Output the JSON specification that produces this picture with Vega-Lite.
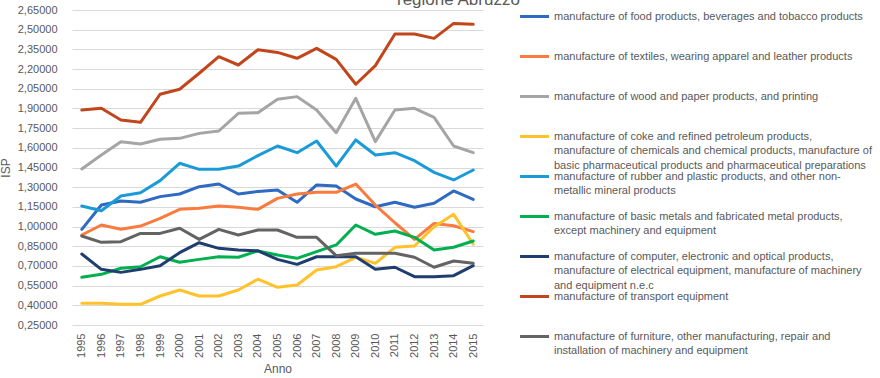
{
  "$schema": "https://vega.github.io/schema/vega-lite/v6.json",
  "autosize": {"type": "none"},
  "padding": {"left": 72, "top": 10, "right": 397, "bottom": 53},
  "width": 411,
  "height": 315,
  "background": "white",
  "title": {"text": "regione Abruzzo", "anchor": "start", "frame": "group", "dx": 325, "dy": 18, "offset": 0, "baseline": "alphabetic", "fontSize": 17, "font": "Liberation Sans", "fontWeight": "normal", "color": "#595959"},
  "datasets": {
    "isp": [
      {"anno": 1995, "k": "food", "isp": 0.979}, {"anno": 1996, "k": "food", "isp": 1.164}, {"anno": 1997, "k": "food", "isp": 1.195}, {"anno": 1998, "k": "food", "isp": 1.185}, {"anno": 1999, "k": "food", "isp": 1.228}, {"anno": 2000, "k": "food", "isp": 1.248}, {"anno": 2001, "k": "food", "isp": 1.304}, {"anno": 2002, "k": "food", "isp": 1.324}, {"anno": 2003, "k": "food", "isp": 1.248}, {"anno": 2004, "k": "food", "isp": 1.268}, {"anno": 2005, "k": "food", "isp": 1.279}, {"anno": 2006, "k": "food", "isp": 1.185}, {"anno": 2007, "k": "food", "isp": 1.317}, {"anno": 2008, "k": "food", "isp": 1.309}, {"anno": 2009, "k": "food", "isp": 1.210}, {"anno": 2010, "k": "food", "isp": 1.151}, {"anno": 2011, "k": "food", "isp": 1.185}, {"anno": 2012, "k": "food", "isp": 1.147}, {"anno": 2013, "k": "food", "isp": 1.177}, {"anno": 2014, "k": "food", "isp": 1.271}, {"anno": 2015, "k": "food", "isp": 1.207},
      {"anno": 1995, "k": "textiles", "isp": 0.936}, {"anno": 1996, "k": "textiles", "isp": 1.012}, {"anno": 1997, "k": "textiles", "isp": 0.979}, {"anno": 1998, "k": "textiles", "isp": 1.004}, {"anno": 1999, "k": "textiles", "isp": 1.063}, {"anno": 2000, "k": "textiles", "isp": 1.131}, {"anno": 2001, "k": "textiles", "isp": 1.139}, {"anno": 2002, "k": "textiles", "isp": 1.157}, {"anno": 2003, "k": "textiles", "isp": 1.147}, {"anno": 2004, "k": "textiles", "isp": 1.131}, {"anno": 2005, "k": "textiles", "isp": 1.215}, {"anno": 2006, "k": "textiles", "isp": 1.248}, {"anno": 2007, "k": "textiles", "isp": 1.261}, {"anno": 2008, "k": "textiles", "isp": 1.261}, {"anno": 2009, "k": "textiles", "isp": 1.324}, {"anno": 2010, "k": "textiles", "isp": 1.164}, {"anno": 2011, "k": "textiles", "isp": 1.029}, {"anno": 2012, "k": "textiles", "isp": 0.902}, {"anno": 2013, "k": "textiles", "isp": 1.024}, {"anno": 2014, "k": "textiles", "isp": 1.006}, {"anno": 2015, "k": "textiles", "isp": 0.961},
      {"anno": 1995, "k": "wood", "isp": 1.439}, {"anno": 1996, "k": "wood", "isp": 1.545}, {"anno": 1997, "k": "wood", "isp": 1.647}, {"anno": 1998, "k": "wood", "isp": 1.629}, {"anno": 1999, "k": "wood", "isp": 1.665}, {"anno": 2000, "k": "wood", "isp": 1.672}, {"anno": 2001, "k": "wood", "isp": 1.710}, {"anno": 2002, "k": "wood", "isp": 1.728}, {"anno": 2003, "k": "wood", "isp": 1.863}, {"anno": 2004, "k": "wood", "isp": 1.867}, {"anno": 2005, "k": "wood", "isp": 1.970}, {"anno": 2006, "k": "wood", "isp": 1.990}, {"anno": 2007, "k": "wood", "isp": 1.888}, {"anno": 2008, "k": "wood", "isp": 1.715}, {"anno": 2009, "k": "wood", "isp": 1.977}, {"anno": 2010, "k": "wood", "isp": 1.647}, {"anno": 2011, "k": "wood", "isp": 1.888}, {"anno": 2012, "k": "wood", "isp": 1.901}, {"anno": 2013, "k": "wood", "isp": 1.832}, {"anno": 2014, "k": "wood", "isp": 1.614}, {"anno": 2015, "k": "wood", "isp": 1.563},
      {"anno": 1995, "k": "coke", "isp": 0.415}, {"anno": 1996, "k": "coke", "isp": 0.415}, {"anno": 1997, "k": "coke", "isp": 0.408}, {"anno": 1998, "k": "coke", "isp": 0.408}, {"anno": 1999, "k": "coke", "isp": 0.471}, {"anno": 2000, "k": "coke", "isp": 0.517}, {"anno": 2001, "k": "coke", "isp": 0.471}, {"anno": 2002, "k": "coke", "isp": 0.471}, {"anno": 2003, "k": "coke", "isp": 0.517}, {"anno": 2004, "k": "coke", "isp": 0.599}, {"anno": 2005, "k": "coke", "isp": 0.537}, {"anno": 2006, "k": "coke", "isp": 0.555}, {"anno": 2007, "k": "coke", "isp": 0.669}, {"anno": 2008, "k": "coke", "isp": 0.694}, {"anno": 2009, "k": "coke", "isp": 0.766}, {"anno": 2010, "k": "coke", "isp": 0.720}, {"anno": 2011, "k": "coke", "isp": 0.842}, {"anno": 2012, "k": "coke", "isp": 0.852}, {"anno": 2013, "k": "coke", "isp": 0.999}, {"anno": 2014, "k": "coke", "isp": 1.093}, {"anno": 2015, "k": "coke", "isp": 0.865},
      {"anno": 1995, "k": "rubber", "isp": 1.157}, {"anno": 1996, "k": "rubber", "isp": 1.121}, {"anno": 1997, "k": "rubber", "isp": 1.233}, {"anno": 1998, "k": "rubber", "isp": 1.258}, {"anno": 1999, "k": "rubber", "isp": 1.350}, {"anno": 2000, "k": "rubber", "isp": 1.482}, {"anno": 2001, "k": "rubber", "isp": 1.436}, {"anno": 2002, "k": "rubber", "isp": 1.436}, {"anno": 2003, "k": "rubber", "isp": 1.461}, {"anno": 2004, "k": "rubber", "isp": 1.541}, {"anno": 2005, "k": "rubber", "isp": 1.614}, {"anno": 2006, "k": "rubber", "isp": 1.563}, {"anno": 2007, "k": "rubber", "isp": 1.652}, {"anno": 2008, "k": "rubber", "isp": 1.461}, {"anno": 2009, "k": "rubber", "isp": 1.660}, {"anno": 2010, "k": "rubber", "isp": 1.545}, {"anno": 2011, "k": "rubber", "isp": 1.563}, {"anno": 2012, "k": "rubber", "isp": 1.502}, {"anno": 2013, "k": "rubber", "isp": 1.413}, {"anno": 2014, "k": "rubber", "isp": 1.355}, {"anno": 2015, "k": "rubber", "isp": 1.431},
      {"anno": 1995, "k": "metals", "isp": 0.613}, {"anno": 1996, "k": "metals", "isp": 0.636}, {"anno": 1997, "k": "metals", "isp": 0.682}, {"anno": 1998, "k": "metals", "isp": 0.694}, {"anno": 1999, "k": "metals", "isp": 0.770}, {"anno": 2000, "k": "metals", "isp": 0.728}, {"anno": 2001, "k": "metals", "isp": 0.750}, {"anno": 2002, "k": "metals", "isp": 0.770}, {"anno": 2003, "k": "metals", "isp": 0.766}, {"anno": 2004, "k": "metals", "isp": 0.815}, {"anno": 2005, "k": "metals", "isp": 0.783}, {"anno": 2006, "k": "metals", "isp": 0.758}, {"anno": 2007, "k": "metals", "isp": 0.809}, {"anno": 2008, "k": "metals", "isp": 0.860}, {"anno": 2009, "k": "metals", "isp": 1.012}, {"anno": 2010, "k": "metals", "isp": 0.941}, {"anno": 2011, "k": "metals", "isp": 0.966}, {"anno": 2012, "k": "metals", "isp": 0.918}, {"anno": 2013, "k": "metals", "isp": 0.821}, {"anno": 2014, "k": "metals", "isp": 0.842}, {"anno": 2015, "k": "metals", "isp": 0.890},
      {"anno": 1995, "k": "computer", "isp": 0.791}, {"anno": 1996, "k": "computer", "isp": 0.674}, {"anno": 1997, "k": "computer", "isp": 0.651}, {"anno": 1998, "k": "computer", "isp": 0.674}, {"anno": 1999, "k": "computer", "isp": 0.702}, {"anno": 2000, "k": "computer", "isp": 0.801}, {"anno": 2001, "k": "computer", "isp": 0.877}, {"anno": 2002, "k": "computer", "isp": 0.834}, {"anno": 2003, "k": "computer", "isp": 0.821}, {"anno": 2004, "k": "computer", "isp": 0.815}, {"anno": 2005, "k": "computer", "isp": 0.750}, {"anno": 2006, "k": "computer", "isp": 0.712}, {"anno": 2007, "k": "computer", "isp": 0.770}, {"anno": 2008, "k": "computer", "isp": 0.770}, {"anno": 2009, "k": "computer", "isp": 0.770}, {"anno": 2010, "k": "computer", "isp": 0.674}, {"anno": 2011, "k": "computer", "isp": 0.690}, {"anno": 2012, "k": "computer", "isp": 0.618}, {"anno": 2013, "k": "computer", "isp": 0.618}, {"anno": 2014, "k": "computer", "isp": 0.626}, {"anno": 2015, "k": "computer", "isp": 0.702},
      {"anno": 1995, "k": "transport", "isp": 1.888}, {"anno": 1996, "k": "transport", "isp": 1.901}, {"anno": 1997, "k": "transport", "isp": 1.812}, {"anno": 1998, "k": "transport", "isp": 1.794}, {"anno": 1999, "k": "transport", "isp": 2.008}, {"anno": 2000, "k": "transport", "isp": 2.046}, {"anno": 2001, "k": "transport", "isp": 2.168}, {"anno": 2002, "k": "transport", "isp": 2.294}, {"anno": 2003, "k": "transport", "isp": 2.231}, {"anno": 2004, "k": "transport", "isp": 2.347}, {"anno": 2005, "k": "transport", "isp": 2.327}, {"anno": 2006, "k": "transport", "isp": 2.282}, {"anno": 2007, "k": "transport", "isp": 2.358}, {"anno": 2008, "k": "transport", "isp": 2.274}, {"anno": 2009, "k": "transport", "isp": 2.084}, {"anno": 2010, "k": "transport", "isp": 2.226}, {"anno": 2011, "k": "transport", "isp": 2.467}, {"anno": 2012, "k": "transport", "isp": 2.467}, {"anno": 2013, "k": "transport", "isp": 2.434}, {"anno": 2014, "k": "transport", "isp": 2.548}, {"anno": 2015, "k": "transport", "isp": 2.541},
      {"anno": 1995, "k": "furniture", "isp": 0.928}, {"anno": 1996, "k": "furniture", "isp": 0.880}, {"anno": 1997, "k": "furniture", "isp": 0.885}, {"anno": 1998, "k": "furniture", "isp": 0.948}, {"anno": 1999, "k": "furniture", "isp": 0.948}, {"anno": 2000, "k": "furniture", "isp": 0.987}, {"anno": 2001, "k": "furniture", "isp": 0.902}, {"anno": 2002, "k": "furniture", "isp": 0.979}, {"anno": 2003, "k": "furniture", "isp": 0.936}, {"anno": 2004, "k": "furniture", "isp": 0.974}, {"anno": 2005, "k": "furniture", "isp": 0.974}, {"anno": 2006, "k": "furniture", "isp": 0.918}, {"anno": 2007, "k": "furniture", "isp": 0.918}, {"anno": 2008, "k": "furniture", "isp": 0.778}, {"anno": 2009, "k": "furniture", "isp": 0.796}, {"anno": 2010, "k": "furniture", "isp": 0.796}, {"anno": 2011, "k": "furniture", "isp": 0.796}, {"anno": 2012, "k": "furniture", "isp": 0.766}, {"anno": 2013, "k": "furniture", "isp": 0.690}, {"anno": 2014, "k": "furniture", "isp": 0.738}, {"anno": 2015, "k": "furniture", "isp": 0.720}
    ]
  },
  "data": {"name": "isp"},
  "mark": {"type": "line", "strokeWidth": 3, "strokeJoin": "round", "strokeCap": "round"},
  "encoding": {
    "x": {
      "field": "anno", "type": "ordinal",
      "scale": {"type": "point", "padding": 0.5},
      "axis": {"title": "Anno", "labelAngle": -90, "labelPadding": 8, "titlePadding": 6, "grid": false}
    },
    "y": {
      "field": "isp", "type": "quantitative",
      "scale": {"domain": [0.25, 2.65], "nice": false, "zero": false},
      "axis": {
        "title": "ISP",
        "values": [0.25, 0.4, 0.55, 0.7, 0.85, 1.0, 1.15, 1.3, 1.45, 1.6, 1.75, 1.9, 2.05, 2.2, 2.35, 2.5, 2.65],
        "labelExpr": "replace(format(datum.value, '.5f'), '.', ',')",
        "labelPadding": 15,
        "titlePadding": 5,
        "grid": true
      }
    },
    "color": {
      "field": "k", "type": "nominal",
      "scale": {
        "domain": ["food", "textiles", "wood", "coke", "rubber", "metals", "computer", "transport", "furniture"],
        "range": ["#2E69C2", "#FA7B3D", "#A5A5A5", "#FFC22B", "#1A9BD7", "#00B04F", "#1F3D6E", "#C2461B", "#636363"]
      },
      "legend": {
        "title": null,
        "orient": "none",
        "legendX": 444,
        "legendY": 1,
        "padding": 0,
        "symbolType": "M-1,0H19",
        "symbolSize": 8.41,
        "symbolStrokeWidth": 3,
        "labelFont": "Liberation Sans",
        "labelFontSize": 11,
        "labelColor": "#595959",
        "labelLimit": 500,
        "labelOffset": 27,
        "labelBaseline": "top",
        "rowPadding": -1,
        "encode": {"labels": {"update": {"lineHeight": {"value": 14.5}, "dy": {"value": -6}}}},
        "labelExpr": "datum.value == 'food' ? ['manufacture of food products, beverages and tobacco products', '', ''] : datum.value == 'textiles' ? ['manufacture of textiles, wearing apparel and leather products', '', ''] : datum.value == 'wood' ? ['manufacture of wood and paper products, and printing', '', ''] : datum.value == 'coke' ? ['manufacture of coke and refined petroleum products,', 'manufacture of chemicals and chemical products, manufacture of', 'basic pharmaceutical products and pharmaceutical preparations'] : datum.value == 'rubber' ? ['manufacture of rubber and plastic products, and other non-', 'metallic mineral products', ''] : datum.value == 'metals' ? ['manufacture of basic metals and fabricated metal products,', 'except machinery and equipment', ''] : datum.value == 'computer' ? ['manufacture of computer, electronic and optical products,', 'manufacture of electrical equipment, manufacture of machinery', 'and equipment n.e.c'] : datum.value == 'transport' ? ['manufacture of transport equipment', '', ''] : ['manufacture of furniture, other manufacturing, repair and', 'installation of machinery and equipment', '']"
      }
    }
  },
  "config": {
    "view": {"stroke": null},
    "axis": {
      "labelFont": "Liberation Sans", "labelFontSize": 11, "labelColor": "#595959",
      "titleFont": "Liberation Sans", "titleFontSize": 12, "titleFontWeight": "normal", "titleColor": "#595959",
      "domain": false, "ticks": false, "gridColor": "#D9D9D9", "gridWidth": 1
    }
  }
}
